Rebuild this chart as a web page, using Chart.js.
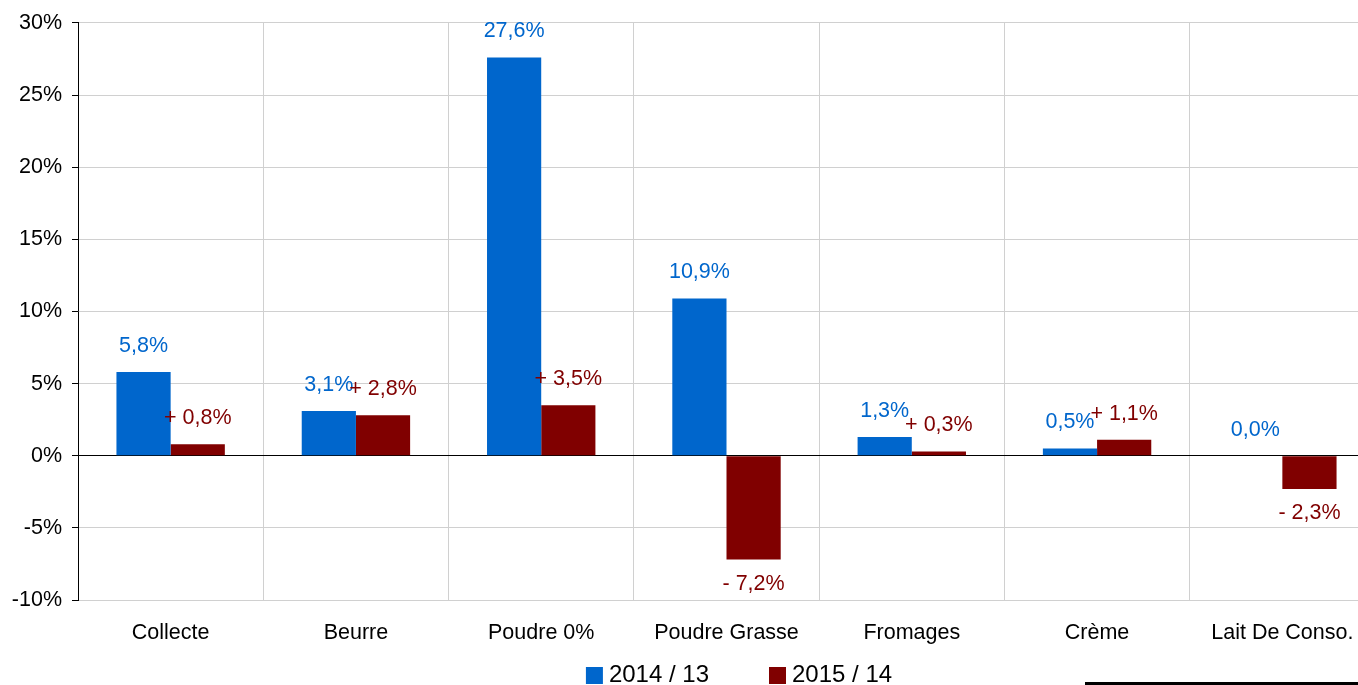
<!DOCTYPE html>
<html>
<head>
<meta charset="utf-8">
<script src="https://cdn.jsdelivr.net/npm/chart.js@4.4.0/dist/chart.umd.min.js"></script>
<style>
  html, body { margin: 0; padding: 0; background: #fff; overflow: hidden; }
  #wrap { width: 1358px; height: 685px; overflow: hidden; }
</style>
</head>
<body>
<div id="wrap"><canvas id="chart" width="1400" height="685"></canvas></div>
<script>
// data
const categories = ['Collecte', 'Beurre', 'Poudre 0%', 'Poudre Grasse', 'Fromages', 'Crème', 'Lait De Conso.'];
const values2014 = [5.8, 3.1, 27.6, 10.9, 1.3, 0.5, 0.0];
const values2015 = [0.8, 2.8, 3.5, -7.2, 0.3, 1.1, -2.3];
const seriesNames = ['2014 / 13', '2015 / 14'];
const yMin = -10, yMax = 30, yStep = 5;

const FONT = '"Liberation Sans", Arial, sans-serif';
const BLUE = '#0066cc';
const RED = '#800000';
const GRID = '#d0d0d0';

const comma = v => Math.abs(v).toFixed(1).replace('.', ',') + '%';

// value labels above / below each bar
const valueLabels = {
  id: 'valueLabels',
  afterDatasetsDraw(chart) {
    const ctx = chart.ctx;
    ctx.save();
    ctx.font = '21.5px ' + FONT;
    ctx.textAlign = 'center';
    ctx.textBaseline = 'middle';
    chart.data.datasets.forEach((ds, i) => {
      chart.getDatasetMeta(i).data.forEach((bar, j) => {
        const v = ds.data[j];
        const y = v < 0 ? bar.y + 24 : bar.y - 26;
        ctx.fillStyle = ds.backgroundColor;
        ctx.fillText(ds.fmt(v), bar.x, y);
      });
    });
    ctx.restore();
  }
};

// legend at the bottom, plus the short rule in the corner
const bottomLegend = {
  id: 'bottomLegend',
  afterDraw(chart) {
    const ctx = chart.ctx;
    ctx.save();
    ctx.font = '24px ' + FONT;
    ctx.textBaseline = 'middle';
    const box = 17, gap = 6, spacing = 60;
    const items = chart.data.datasets.map(ds => ({ text: ds.label, color: ds.backgroundColor, w: ctx.measureText(ds.label).width }));
    let total = 0;
    items.forEach((it, k) => { total += box + gap + it.w + (k ? spacing : 0); });
    let x = 739 - total / 2;
    const cy = 675;
    items.forEach(it => {
      ctx.fillStyle = it.color;
      ctx.fillRect(x, cy - 8, box, box);
      ctx.fillStyle = '#000';
      ctx.fillText(it.text, x + box + gap, cy);
      x += box + gap + it.w + spacing;
    });
    ctx.fillStyle = '#000';
    ctx.fillRect(1085, 682, 300, 3);
    ctx.restore();
  }
};

new Chart(document.getElementById('chart'), {
  type: 'bar',
  data: {
    labels: categories,
    datasets: [
      { label: seriesNames[0], data: values2014, backgroundColor: BLUE, fmt: v => comma(v) },
      { label: seriesNames[1], data: values2015, backgroundColor: RED, fmt: v => (v < 0 ? '- ' : '+ ') + comma(v) }
    ]
  },
  options: {
    responsive: false,
    animation: false,
    datasets: { bar: { categoryPercentage: 0.585, barPercentage: 1 } },
    layout: { padding: { top: 20.5, right: 25, bottom: 35, left: 0 } },
    plugins: { legend: { display: false }, tooltip: { enabled: false } },
    scales: {
      x: {
        grid: { color: GRID, drawTicks: false, offset: true },
        border: { display: false },
        ticks: { color: '#000', font: { size: 21.5, family: FONT }, padding: 20, maxRotation: 0, autoSkip: false },
        afterFit(s) { s.height = 50; }
      },
      y: {
        min: yMin,
        max: yMax,
        ticks: { stepSize: yStep, color: '#000', font: { size: 21.5, family: FONT }, padding: 10, callback: v => v + '%' },
        grid: { color: c => (c.tick && c.tick.value === 0 ? '#000' : GRID), tickColor: '#000', tickLength: 6 },
        border: { color: '#000', z: 1 },
        afterFit(s) { s.width = 78; }
      }
    }
  },
  plugins: [valueLabels, bottomLegend]
});
</script>
</body>
</html>
